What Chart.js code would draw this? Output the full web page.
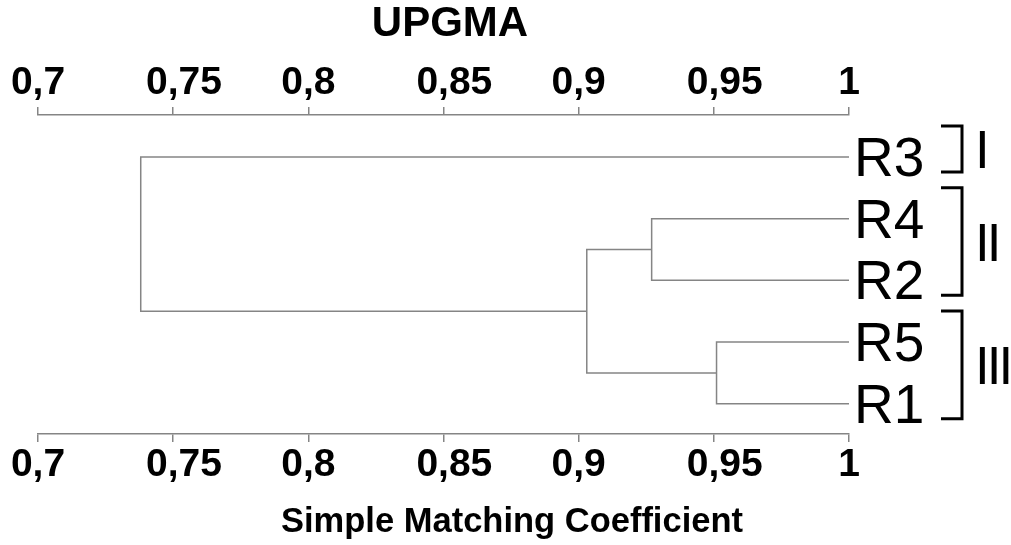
<!DOCTYPE html>
<html>
<head>
<meta charset="utf-8">
<script src="https://cdn.jsdelivr.net/npm/chart.js@4.4.1/dist/chart.umd.min.js"></script>
<style>
  html, body { margin: 0; padding: 0; background: #fff; }
  #wrap { width: 1011px; height: 545px; }
</style>
</head>
<body>
<div id="wrap"><canvas id="dendro"></canvas></div>
<script>
// leaves, top to bottom
const leaves = ["R3", "R4", "R2", "R5", "R1"];
// merge steps: node ids 0-4 are the leaves, 5.. are the merges in this order
const mergeA = [1, 3, 5, 0];
const mergeB = [2, 4, 6, 7];
const mergeHeight = [0.927, 0.951, 0.903, 0.738];
// axis
const tickValues = [0.7, 0.75, 0.8, 0.85, 0.9, 0.95, 1];
const tickLabels = ["0,7", "0,75", "0,8", "0,85", "0,9", "0,95", "1"];
// groups on the right
const groupLabels = ["I", "II", "III"];
const groupFirst = [0, 1, 3];
const groupLast = [0, 2, 4];

const lineGray = "#858585";
const boldFont = "'Liberation Sans', Arial, sans-serif";

// build the tree paths
const nodeX = leaves.map(() => 1);
const nodeY = leaves.map((_, i) => i);
const datasets = [];
mergeHeight.forEach((h, k) => {
  const a = mergeA[k], b = mergeB[k];
  datasets.push({
    data: [
      { x: nodeX[a], y: nodeY[a] },
      { x: h, y: nodeY[a] },
      { x: h, y: nodeY[b] },
      { x: nodeX[b], y: nodeY[b] }
    ],
    showLine: true,
    borderColor: lineGray,
    borderWidth: 1.5,
    pointRadius: 0,
    fill: false,
    tension: 0
  });
  nodeX.push(h);
  nodeY.push((nodeY[a] + nodeY[b]) / 2);
});

function axis(pos, h) {
  return {
    type: "linear",
    position: pos,
    min: 0.7,
    max: 1,
    afterBuildTicks: (s) => { s.ticks = tickValues.map((v) => ({ value: v })); },
    afterFit: (s) => { s.height = h; },
    ticks: {
      color: "#000",
      font: { family: boldFont, size: 39, weight: "bold" },
      padding: 0,
      maxRotation: 0,
      autoSkip: false,
      // two leading spaces keep the comma on the tick for two-digit labels
      callback: (v, i) => (tickLabels[i].length > 3 ? "  " : "") + tickLabels[i]
    },
    grid: { drawOnChartArea: false, drawTicks: true, tickLength: 8, color: lineGray, lineWidth: 1.5 },
    border: { display: true, color: lineGray, width: 1.5 }
  };
}

// titles, leaf names and group brackets
const decor = {
  id: "decor",
  afterDraw(chart) {
    const ctx = chart.ctx;
    const xs = chart.scales.x, ys = chart.scales.y;
    ctx.save();
    ctx.fillStyle = "#000";
    ctx.textBaseline = "alphabetic";
    ctx.textAlign = "center";
    ctx.font = "bold 42px " + boldFont;
    ctx.fillText("UPGMA", 450, 36);
    ctx.font = "bold 34.5px " + boldFont;
    ctx.fillText("Simple Matching Coefficient", 512, 532);

    ctx.textAlign = "left";
    ctx.font = "55px " + boldFont;
    const xr = xs.getPixelForValue(1);
    leaves.forEach((name, i) => {
      ctx.fillText(name, xr + 5, ys.getPixelForValue(i) + 19);
    });

    ctx.strokeStyle = "#000";
    ctx.lineWidth = 3;
    ctx.font = "53px " + boldFont;
    ctx.letterSpacing = "-3px";
    groupLabels.forEach((g, i) => {
      const y0 = ys.getPixelForValue(groupFirst[i]) - 31;
      const y1 = ys.getPixelForValue(groupLast[i]) + 15;
      ctx.beginPath();
      ctx.moveTo(xr + 92, y0);
      ctx.lineTo(xr + 113, y0);
      ctx.lineTo(xr + 113, y1);
      ctx.lineTo(xr + 92, y1);
      ctx.stroke();
      ctx.fillText(g, xr + 126, (y0 + y1) / 2 + 19);
    });
    ctx.restore();
  }
};

new Chart(document.getElementById("dendro"), {
  type: "scatter",
  data: { datasets: datasets },
  options: {
    responsive: true,
    maintainAspectRatio: false,
    animation: false,
    layout: { padding: { left: 38, right: 162, top: 0, bottom: 0 } },
    plugins: { legend: { display: false }, tooltip: { enabled: false } },
    scales: {
      x: axis("bottom", 111),
      x2: axis("top", 115),
      y: { type: "linear", display: false, reverse: true, min: -0.68, max: 4.49 }
    }
  },
  plugins: [decor]
});
</script>
</body>
</html>
